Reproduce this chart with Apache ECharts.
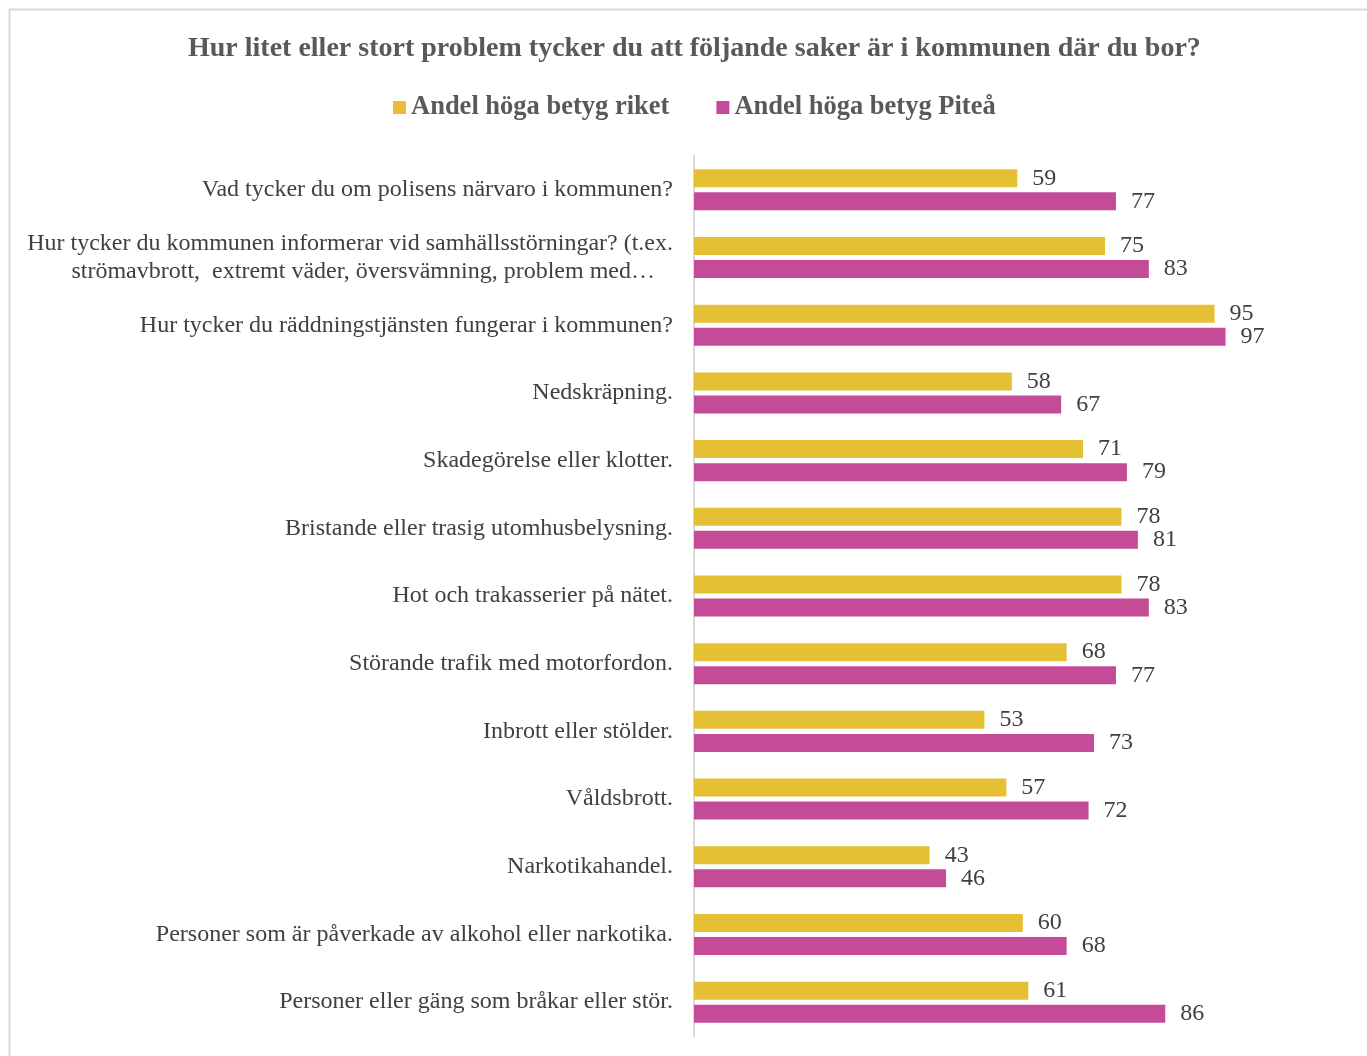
<!DOCTYPE html>
<html>
<head>
<meta charset="utf-8">
<script src="https://cdn.jsdelivr.net/npm/echarts@6/dist/echarts.min.js"></script>
<style>
html,body{margin:0;padding:0;background:#fff;}
#chart{width:1367px;height:1056px;}
</style>
</head>
<body>
<div id="chart"></div>
<script>
const titleText = 'Hur litet eller stort problem tycker du att följande saker är i kommunen där du bor?';
const seriesNames = ['Andel höga betyg riket', 'Andel höga betyg Piteå'];
const categories = [
  'Vad tycker du om polisens närvaro i kommunen?',
  'Hur tycker du kommunen informerar vid samhällsstörningar? (t.ex.\nströmavbrott,  extremt väder, översvämning, problem med…   ',
  'Hur tycker du räddningstjänsten fungerar i kommunen?',
  'Nedskräpning.',
  'Skadegörelse eller klotter.',
  'Bristande eller trasig utomhusbelysning.',
  'Hot och trakasserier på nätet.',
  'Störande trafik med motorfordon.',
  'Inbrott eller stölder.',
  'Våldsbrott.',
  'Narkotikahandel.',
  'Personer som är påverkade av alkohol eller narkotika.',
  'Personer eller gäng som bråkar eller stör.'
];
const riket = [59, 75, 95, 58, 71, 78, 78, 68, 53, 57, 43, 60, 61];
const pitea = [77, 83, 97, 67, 79, 81, 83, 77, 73, 72, 46, 68, 86];

const FONT = '"Liberation Serif", "Times New Roman", serif';
const chart = echarts.init(document.getElementById('chart'));
const labelCfg = {
  show: true, position: 'right', distance: 15,
  fontFamily: FONT, fontSize: 24, color: '#404040'
};
chart.setOption({
  backgroundColor: '#fff',
  animation: false,
  graphic: [{
    type: 'rect', silent: true,
    shape: { x: 9.5, y: 9.5, width: 1400, height: 1100 },
    style: { fill: 'none', stroke: '#d9d9d9', lineWidth: 2 }
  }],
  title: {
    text: titleText, left: 183, top: 30,
    textStyle: { fontFamily: FONT, fontSize: 28, fontWeight: 'bold', color: '#595959' }
  },
  legend: {
    top: 89, left: 388, itemGap: 47, icon: 'rect', itemWidth: 13, itemHeight: 13,
    textStyle: { fontFamily: FONT, fontSize: 26.5, fontWeight: 'bold', color: '#595959' },
    data: seriesNames
  },
  grid: { left: 694, top: 156, right: 125, bottom: 20, containLabel: false },
  xAxis: {
    type: 'value', min: 0, max: 100,
    axisLine: { show: false }, axisTick: { show: false },
    axisLabel: { show: false }, splitLine: { show: false }
  },
  yAxis: {
    type: 'category', data: categories, inverse: true,
    axisLine: { show: true, lineStyle: { color: '#d9d9d9', width: 2 } },
    axisTick: { show: false },
    axisLabel: {
      margin: 21, fontFamily: FONT, fontSize: 24, color: '#404040',
      lineHeight: 28, align: 'right'
    }
  },
  series: [
    {
      name: seriesNames[0], type: 'bar', data: riket, barWidth: 18, barGap: '28%',
      itemStyle: { color: '#E5C034' }, label: labelCfg
    },
    {
      name: seriesNames[1], type: 'bar', data: pitea, barWidth: 18, barGap: '28%',
      itemStyle: { color: '#C54B99' }, label: labelCfg
    }
  ]
});
</script>
</body>
</html>
